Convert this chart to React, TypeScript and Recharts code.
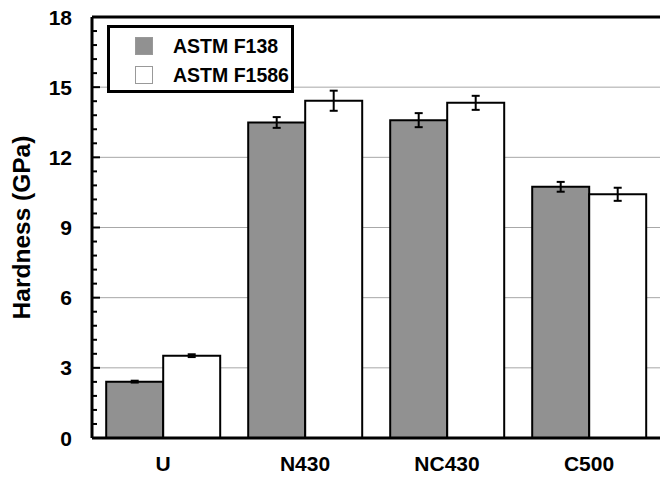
import React from "react";
import {
  BarChart,
  Bar,
  XAxis,
  YAxis,
  CartesianGrid,
  ErrorBar,
  Legend,
  ReferenceLine,
} from "recharts";

const CATEGORIES = ["U", "N430", "NC430", "C500"];
const F138 = [2.41, 13.49, 13.59, 10.74];
const F138_ERR = [0.04, 0.23, 0.3, 0.21];
const F1586 = [3.52, 14.42, 14.33, 10.42];
const F1586_ERR = [0.06, 0.43, 0.3, 0.28];
const SERIES_NAMES = ["ASTM F138", "ASTM F1586"];
const GRID_TICKS = [3, 6, 9, 12, 15];
const AXIS_TICKS = Array.from({ length: 31 }, (_, i) => Math.round(i * 6) / 10);

const FONT = "'Liberation Sans', Arial, sans-serif";
const GRAY = "#919191";

const data = CATEGORIES.map((name, i) => ({
  name,
  f138: F138[i],
  f138Err: F138_ERR[i],
  f1586: F1586[i],
  f1586Err: F1586_ERR[i],
}));

const isMajor = (v: number) => Math.abs(v / 3 - Math.round(v / 3)) < 1e-6;

function LeftTick(props: any) {
  const { x, y, payload } = props;
  const v = payload.value;
  const major = isMajor(v);
  return (
    <g>
      <line x1={x} y1={y} x2={x + (major ? 8 : 5)} y2={y} stroke="#000" strokeWidth={2} />
      {major && (
        <text
          x={x - 20}
          y={y}
          dy="0.36em"
          textAnchor="end"
          fontSize={21}
          fontWeight="bold"
          fontFamily={FONT}
          fill="#000"
        >
          {v}
        </text>
      )}
    </g>
  );
}

function RightTick(props: any) {
  const { x, y, payload } = props;
  const major = isMajor(payload.value);
  return <line x1={x - (major ? 8 : 5)} y1={y} x2={x} y2={y} stroke="#000" strokeWidth={2} />;
}

function LegendBox() {
  const fills = [GRAY, "#fff"];
  return (
    <div
      style={{
        width: 181,
        height: 62,
        border: "3px solid #000",
        background: "#fff",
        fontFamily: FONT,
        position: "relative",
      }}
    >
      {SERIES_NAMES.map((n, i) => (
        <div
          key={n}
          style={{
            position: "absolute",
            left: 25,
            top: 8 + i * 29,
            height: 20,
            display: "flex",
            alignItems: "center",
          }}
        >
          <div
            style={{
              width: 16,
              height: 16,
              background: fills[i],
              border: "1px solid #999",
              marginRight: 20,
            }}
          />
          <span style={{ fontSize: 19.5, fontWeight: "bold", color: "#000", whiteSpace: "nowrap" }}>
            {n}
          </span>
        </div>
      ))}
    </div>
  );
}

export default function App() {
  return (
    <div style={{ position: "absolute", left: 0, top: 0, width: 660, height: 477, background: "#fff" }}>
      <BarChart
        width={660}
        height={477}
        data={data}
        margin={{ top: 17, right: 0, bottom: 0, left: 0 }}
        barGap={0}
        barCategoryGap="10%"
      >
        <CartesianGrid
          yAxisId="left"
          vertical={false}
          horizontalValues={GRID_TICKS}
          stroke="#a8a8a8"
          strokeWidth={1}
        />
        <XAxis
          dataKey="name"
          height={39}
          axisLine={{ stroke: "#000", strokeWidth: 3 }}
          tickLine={false}
          tickSize={0}
          tickMargin={18}
          tick={{ fontSize: 21, fontWeight: "bold", fontFamily: FONT, fill: "#000" }}
          interval={0}
        />
        <YAxis
          yAxisId="left"
          width={92}
          domain={[0, 18]}
          ticks={AXIS_TICKS}
          interval={0}
          tickSize={0}
          tickMargin={0}
          tickLine={false}
          axisLine={{ stroke: "#000", strokeWidth: 3 }}
          tick={<LeftTick />}
          label={{
            value: "Hardness (GPa)",
            angle: -90,
            position: "insideLeft",
            offset: 21,
            style: { fontSize: 24.5, fontWeight: "bold", fontFamily: FONT, fill: "#000", textAnchor: "middle" },
          }}
        />
        <YAxis
          yAxisId="right"
          orientation="right"
          width={0}
          domain={[0, 18]}
          ticks={AXIS_TICKS}
          interval={0}
          tickSize={0}
          tickMargin={0}
          tickLine={false}
          axisLine={false}
          tick={<RightTick />}
        />
        <ReferenceLine yAxisId="left" y={18} stroke="#000" strokeWidth={3} />
        <Bar
          yAxisId="left"
          dataKey="f138"
          name={SERIES_NAMES[0]}
          fill={GRAY}
          stroke="#000"
          strokeWidth={2}
          isAnimationActive={false}
        >
          <ErrorBar dataKey="f138Err" width={4} stroke="#000" strokeWidth={2} direction="y" />
        </Bar>
        <Bar
          yAxisId="left"
          dataKey="f1586"
          name={SERIES_NAMES[1]}
          fill="#fff"
          stroke="#000"
          strokeWidth={2}
          isAnimationActive={false}
        >
          <ErrorBar dataKey="f1586Err" width={4} stroke="#000" strokeWidth={2} direction="y" />
        </Bar>
        <Legend
          layout="vertical"
          align="center"
          verticalAlign="middle"
          wrapperStyle={{ left: 107, top: 25, width: "auto" }}
          content={() => <LegendBox />}
        />
      </BarChart>
    </div>
  );
}
